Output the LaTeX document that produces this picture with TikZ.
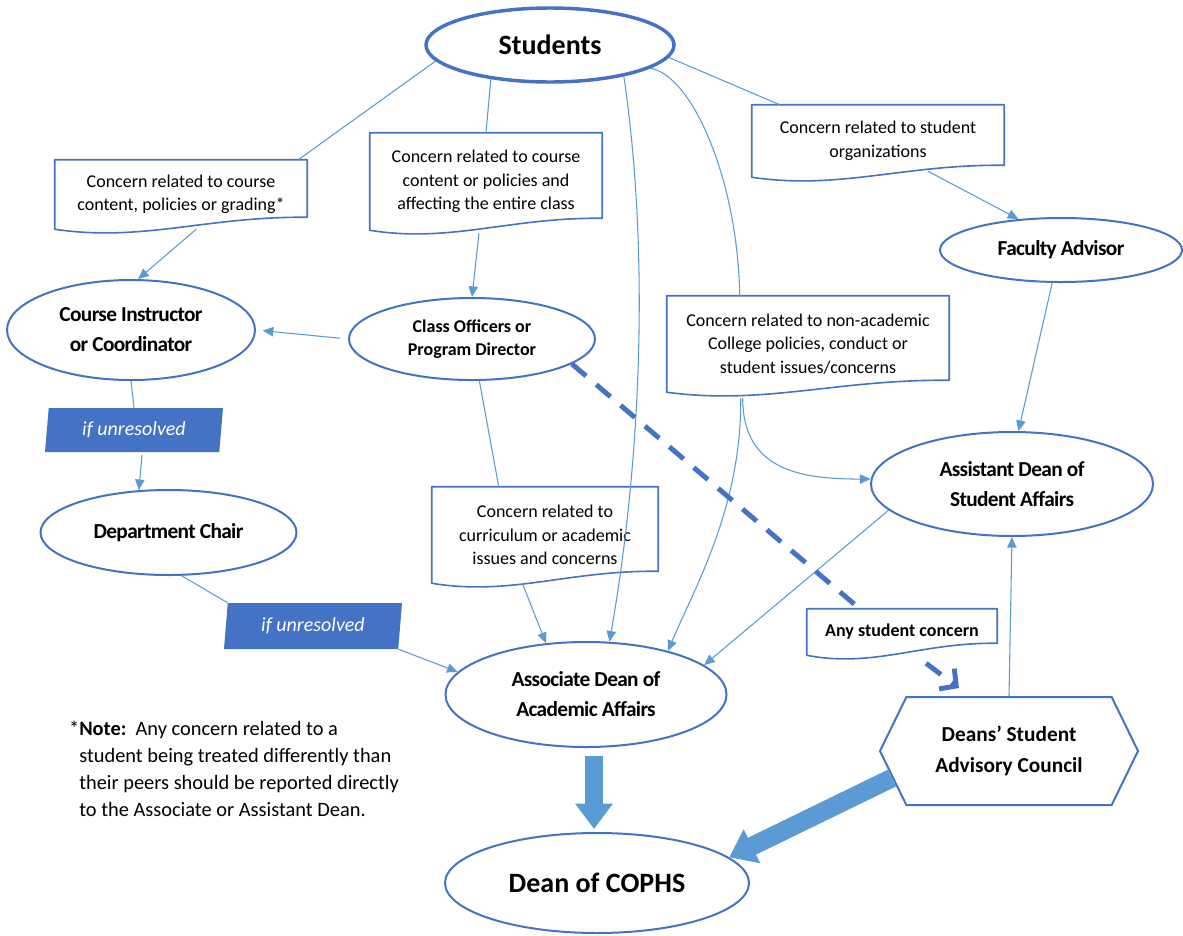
\documentclass[tikz,border=0pt]{standalone}
\usepackage{fontspec}
\setmainfont{Carlito}
\newfontfamily\condfont{Carlito}[LetterSpace=-3]
\usetikzlibrary{shapes.geometric,shapes.symbols,arrows.meta,calc}

\definecolor{nodeblue}{HTML}{4472C4}
\definecolor{linkblue}{HTML}{5B9BD5}

% outline of a concern box, wavy at the bottom
\newcommand{\docframe}[1]{%
  \draw[docline] (#1.south west) -- (#1.north west) -- (#1.north east) -- ($(#1.south east)+(0,-12)$)
    .. controls ($(#1.south east)!0.4!(#1.south west)+(0,-13)$) and ($(#1.south west)!0.35!(#1.south east)+(0,13)$) .. (#1.south west) -- cycle;}

\begin{document}
\begin{tikzpicture}[x=0.75pt,y=-0.75pt]
    \tikzset{bubble/.style={
        ellipse, draw=nodeblue, line width=1.5pt, inner sep=0pt, align=center,
        font=\condfont\bfseries\fontsize{16}{22.5}\selectfont
      },
      concern/.style={rectangle, inner sep=0pt, align=center, font=\fontsize{13.5}{17.6}\selectfont},
      docline/.style={draw=nodeblue, line width=1.2pt, line join=round},
      unresolved/.style={trapezium, trapezium left angle=77, trapezium right angle=103,
        trapezium stretches body=true,
        fill=nodeblue, text=white, inner sep=0pt, minimum width=133.5pt, minimum height=33pt,
        font=\itshape\fontsize{15}{18}\selectfont},
      link/.style={draw=linkblue, line width=0.8pt},
      linkarrow/.style={link, -{Triangle[length=8pt,width=7pt]}},
      dashlink/.style={draw=nodeblue, line width=3.7pt, dash pattern=on 14pt off 10pt},
      bigarrow/.style={draw=linkblue, line width=14pt, -{Triangle[length=19pt,width=27pt]}}
    }
    \useasboundingbox (0,0) rectangle (1183,936);

    \node[bubble, line width=2.6pt, minimum width=186pt, minimum height=55.5pt,
      font=\bfseries\fontsize{21}{25}\selectfont] (students) at (550,45) {Students};

    \node[concern, minimum width=189pt, minimum height=51.75pt] (box1) at (181,194.5)
      {Concern related to course\\content, policies or grading*};
    \node[concern, minimum width=174pt, minimum height=72.75pt] (box2) at (486,181.5)
      {Concern related to course\\content or policies and\\affecting the entire class};
    \node[concern, minimum width=189pt, minimum height=54pt] (box3) at (878,141)
      {Concern related to student\\organizations};
    \node[concern, minimum width=211.5pt, minimum height=72pt] (box4) at (808,344)
      {Concern related to non-academic\\College policies, conduct or\\student issues/concerns};
    \node[concern, minimum width=169.5pt, minimum height=72pt] (box5) at (545,535)
      {Concern related to\\curriculum or academic\\issues and concerns};
    \node[concern, minimum width=142.5pt, minimum height=34.5pt,
      font=\bfseries\fontsize{13.5}{17}\selectfont] (box6) at (902,632) {Any student concern};
    \docframe{box1}
    \docframe{box2}
    \docframe{box3}
    \docframe{box4}
    \docframe{box5}
    \docframe{box6}

    \node[bubble, minimum width=186pt, minimum height=75pt] (instr) at (131,330) {Course Instructor\\or Coordinator};
    \node[bubble, minimum width=184.5pt, minimum height=61.5pt,
      font=\bfseries\fontsize{13.5}{17.25}\selectfont] (officers) at (472,339) {Class Officers or\\Program Director};
    \node[bubble, minimum width=181.5pt, minimum height=48pt] (fac) at (1061,250) {Faculty Advisor};
    \node[bubble, minimum width=192pt, minimum height=63.75pt] (chair) at (168.5,532.5) {Department Chair};
    \node[bubble, minimum width=211.5pt, minimum height=78pt] (asst) at (1012,484) {Assistant Dean of\\Student Affairs};
    \node[bubble, minimum width=210.75pt, minimum height=78.75pt] (assoc) at (586,694.5) {Associate Dean of\\Academic Affairs};
    \node[bubble, minimum width=228pt, minimum height=75pt,
      font=\bfseries\fontsize{21}{25}\selectfont] (dean) at (597,883) {Dean of COPHS};
    \node[signal, signal to=west and east, signal pointer angle=128, draw=nodeblue, line width=1.5pt,
      inner sep=0pt, minimum width=193.5pt, minimum height=81pt, align=center,
      font=\bfseries\fontsize{16}{23}\selectfont] (dsac) at (1009,751) {Deans’ Student\\Advisory Council};

    \node[unresolved] (unres1) at (134,430) {if unresolved};
    \node[unresolved, minimum height=34.5pt] (unres2) at (313,626) {if unresolved};

    \node[anchor=north west, inner sep=0pt, align=left, font=\fontsize{15.3}{20.25}\selectfont] (note) at (79,721)
      {\llap{*}\textbf{Note:}\ \ Any concern related to a\\student being treated differently than\\their peers should be reported directly\\to the Associate or Assistant Dean.};

    % from the students
    \draw[link] (students.188) -- ($(box1.north east)+(-9,0)$);
    \draw[link] (students.210) -- (box2.north);
    \draw[linkarrow] (students.337) .. controls +(25,170) and +(33,-190) .. (assoc.66);
    \draw[link] (students.347) .. controls +(42,8) and +(-2,-116) .. ($(box4.north west)+(73,0)$);
    \draw[link] (students.354) -- ($(box3.north west)+(28,0)$);

    \draw[linkarrow] ($(box1.south west)!0.56!(box1.south east)$) -- (instr.82);
    \draw[linkarrow] ($(box2.south)+(-7,3)$) -- (officers.north);
    \draw[linkarrow] ($(box3.south)+(50,-6)$) -- (fac.144);
    \draw[linkarrow, shorten <=6pt, shorten >=5pt] (officers.west) -- (instr.east);
    \draw[linkarrow] (fac.255) -- (asst.83);

    \draw[link] (officers.280) -- ($(box5.north west)+(67,0)$);
    \draw[linkarrow] ($(box5.south west)!0.4!(box5.south east)$) -- (assoc.128);

    \draw[link] (instr.south) -- (unres1.north);
    \draw[linkarrow] ($(unres1.south)+(8,3)$) -- (chair.125);
    \draw[link] (chair.287) -- (unres2.top left corner);
    \draw[linkarrow] (unres2.bottom right corner) -- (assoc.170);

    \draw[linkarrow] ($(box4.south west)+(76,6)$) .. controls +(0,72) and +(-70,0) .. (asst.178);
    \draw[linkarrow] ($(box4.south west)+(74,6)$) .. controls +(1,110) and +(25,-60) .. (assoc.28);
    \draw[linkarrow] (asst.192) -- (assoc.14);
    \draw[linkarrow] (dsac.north) -- (asst.south);

    \draw[dashlink] (officers.346) -- ($(box6.north west)+(53,0)$);
    \draw[dashlink, -{Straight Barb[length=9pt,width=19pt]}] ($(box6.south)+(24,8)$) -- ($(dsac.north)+(-50,-8)$);

    \draw[bigarrow] ($(assoc.south)+(8,8)$) -- ($(dean.north)+(-3,-3)$);
    \draw[bigarrow] (dsac.193) -- (dean.11);
\end{tikzpicture}
\end{document}
